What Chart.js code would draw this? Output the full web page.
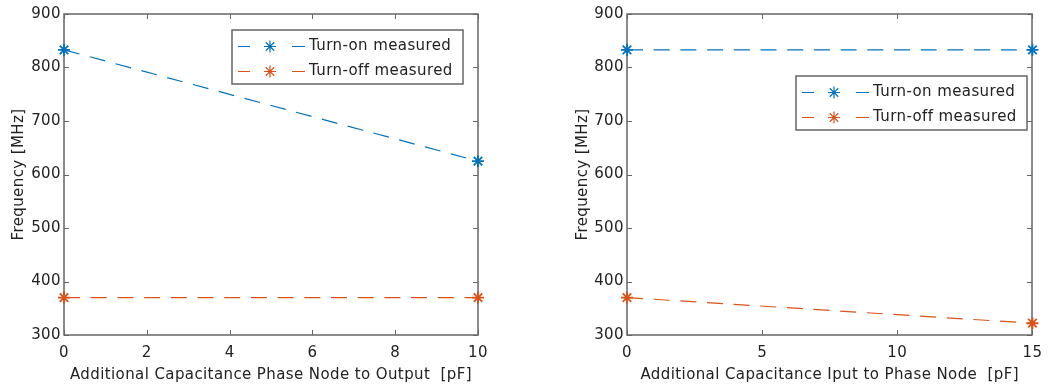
<!DOCTYPE html>
<html>
<head>
<meta charset="utf-8">
<script src="https://cdn.jsdelivr.net/npm/chart.js@4"></script>
<style>
  html, body { margin: 0; padding: 0; background: #fff; }
  #wrap { position: relative; width: 1051px; height: 385px; }
  .panel { position: absolute; top: 0; height: 385px; }
</style>
</head>
<body>
<div id="wrap">
  <div class="panel" style="left:0;width:500px"><canvas id="leftChart"></canvas></div>
  <div class="panel" style="left:560px;width:491px"><canvas id="rightChart"></canvas></div>
</div>
<script>
// left panel: extra capacitance phase node -> output
const leftX = [0, 10];
const leftTurnOn = [833, 625];
const leftTurnOff = [370, 370];

// right panel: extra capacitance input -> phase node
const rightX = [0, 15];
const rightTurnOn = [833, 833];
const rightTurnOff = [370, 322];

const seriesLabels = ['Turn-on measured', 'Turn-off measured'];
const seriesColors = ['#0072BD', '#D95319'];

const FONT = 'DejaVu Sans, sans-serif';
const TEXT = '#222222';
const AXIS = '#666666';
const SPACING = '0.4px';

function pts(xs, ys) {
    return xs.map((x, i) => ({ x: x, y: ys[i] }));
}

// box around the axes, inward ticks on all four sides, legend inside the axes
function matlabAxes(legendPos) {
    return {
        id: 'matlabAxes',
        beforeDraw(chart) {
            chart.ctx.letterSpacing = SPACING;
        },
        beforeDatasetsDraw(chart) {
            const { ctx, chartArea: a, scales: { x, y } } = chart;
            ctx.save();
            ctx.strokeStyle = AXIS;
            ctx.lineWidth = 1.5;
            const L = Math.round(a.left), R = Math.round(a.right);
            const T = Math.round(a.top), B = Math.round(a.bottom);
            ctx.strokeRect(L, T, R - L, B - T);
            const tl = 5;
            ctx.lineWidth = 1;
            ctx.beginPath();
            x.ticks.forEach(t => {
                const px = Math.round(x.getPixelForValue(t.value)) + 0.5;
                ctx.moveTo(px, B); ctx.lineTo(px, B - tl);
                ctx.moveTo(px, T); ctx.lineTo(px, T + tl);
            });
            y.ticks.forEach(t => {
                const py = Math.round(y.getPixelForValue(t.value)) + 0.5;
                ctx.moveTo(L, py); ctx.lineTo(L + tl, py);
                ctx.moveTo(R, py); ctx.lineTo(R - tl, py);
            });
            ctx.stroke();
            ctx.restore();
        },
        afterDraw(chart) {
            const ctx = chart.ctx;
            const bx = legendPos.x, by = legendPos.y;
            const bw = 231, bh = 54;
            ctx.save();
            ctx.letterSpacing = SPACING;
            ctx.fillStyle = '#fff';
            ctx.fillRect(bx, by, bw, bh);
            ctx.strokeStyle = AXIS;
            ctx.lineWidth = 1.5;
            ctx.strokeRect(bx, by, bw, bh);
            chart.data.datasets.forEach((ds, i) => {
                const cy = Math.round(by + 16 + i * 25) + 0.5;
                ctx.strokeStyle = ds.borderColor;
                ctx.lineWidth = 1.2;
                ctx.setLineDash([]);
                ctx.beginPath();
                ctx.moveTo(bx + 6, cy); ctx.lineTo(bx + 18, cy);
                ctx.moveTo(bx + 60, cy); ctx.lineTo(bx + 73, cy);
                ctx.stroke();
                Chart.helpers.drawPoint(ctx, {
                    pointStyle: 'star', radius: 6, rotation: 0, borderWidth: 1.8
                }, bx + 38, cy);
                ctx.fillStyle = TEXT;
                ctx.font = '15px ' + FONT;
                ctx.textBaseline = 'middle';
                ctx.textAlign = 'left';
                ctx.fillText(ds.label, bx + 77, cy);
            });
            ctx.restore();
        }
    };
}

function makeChart(id, xs, on, off, xMax, xStep, xTitle, pad, legendPos) {
    const datasets = [on, off].map((ys, i) => ({
        label: seriesLabels[i],
        data: pts(xs, ys),
        borderColor: seriesColors[i],
        backgroundColor: seriesColors[i],
        borderWidth: 1.2,
        borderDash: [16, 10.7],
        pointStyle: 'star',
        pointRadius: 6,
        pointBorderWidth: 1.8,
        tension: 0,
        clip: false
    }));

    new Chart(document.getElementById(id), {
        type: 'line',
        data: { datasets: datasets },
        options: {
            responsive: true,
            maintainAspectRatio: false,
            animation: false,
            events: [],
            layout: { padding: { top: 14, right: pad.right, left: 0, bottom: 0 } },
            plugins: { legend: { display: false }, tooltip: { enabled: false } },
            scales: {
                x: {
                    type: 'linear',
                    min: 0, max: xMax,
                    grid: { display: false, tickLength: 0 },
                    border: { display: false },
                    ticks: { stepSize: xStep, color: TEXT, font: { family: FONT, size: 15 }, padding: 9, maxRotation: 0 },
                    title: { display: true, text: xTitle, color: TEXT, font: { family: FONT, size: 15 }, padding: { top: 0, bottom: 1 } },
                    afterFit(scale) { scale.height = 50; }
                },
                y: {
                    min: 300, max: 900,
                    grid: { display: false, tickLength: 0 },
                    border: { display: false },
                    ticks: { stepSize: 100, color: TEXT, font: { family: FONT, size: 15 }, padding: 3 },
                    title: { display: true, text: 'Frequency [MHz]', color: TEXT, font: { family: FONT, size: 15 }, padding: { top: pad.ytitle, bottom: 0 } },
                    afterFit(scale) { scale.width = pad.left; }
                }
            }
        },
        plugins: [matlabAxes(legendPos)]
    });
}

makeChart('leftChart', leftX, leftTurnOn, leftTurnOff, 10, 2,
    'Additional Capacitance Phase Node to Output  [pF]',
    { left: 64, right: 22, ytitle: 10 }, { x: 232, y: 30 });

makeChart('rightChart', rightX, rightTurnOn, rightTurnOff, 15, 5,
    'Additional Capacitance Iput to Phase Node  [pF]',
    { left: 67, right: 9, ytitle: 14 }, { x: 236, y: 76 });
</script>
</body>
</html>
